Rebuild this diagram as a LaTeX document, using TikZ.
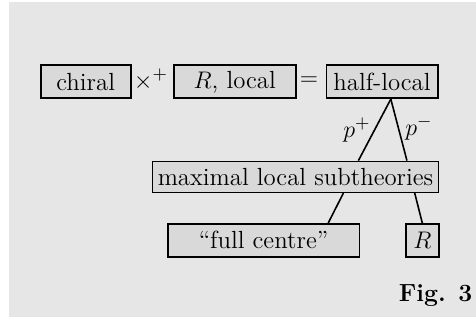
\documentclass[tikz,border=0pt]{standalone}
\usetikzlibrary{calc}
\definecolor{bgcol}{HTML}{E6E6E6}
\definecolor{boxcol}{HTML}{D9D9D9}
\begin{document}
\begin{tikzpicture}[x=0.5pt,y=-0.5pt,
  every node/.style={font=\fontsize{12.4}{14}\selectfont, inner sep=0pt},
  thickbox/.style={draw=black, line width=0.8pt, fill=boxcol, minimum height=16.5pt},
  thinbox/.style={draw=black, line width=0.4pt, fill=boxcol, minimum height=15.8pt},
  link/.style={line width=0.8pt}]
\useasboundingbox (0,0) rectangle (476,320);
\fill[bgcol] (9,2) rectangle (476,317);
\node[thickbox, minimum width=45pt] (ch) at (85.7,81.8) {chiral};
\node (times) at (151,80) {$\times^+$};
\node[thickbox, minimum width=61pt] (rl) at (234.7,81.8) {$R$, local};
\node (eq) at (309,81) {$=$};
\node[thickbox, minimum width=55.7pt] (hl) at (382,81.8) {half-local};
\node[thinbox, minimum width=143.2pt] (mx) at (295.5,176.8) {maximal local subtheories};
\node[thickbox, minimum width=95.8pt] (fc) at (263.5,240.3) {``full centre''};
\node[thickbox, minimum width=16.4pt] (r) at (422.3,240.3) {$R$};
\coordinate (apex) at ($(hl.south west)!0.578!(hl.south east)$);
\draw[link] (apex) -- ($(mx.north west)!0.719!(mx.north east)$);
\draw[link] (apex) -- ($(mx.north west)!0.888!(mx.north east)$);
\draw[link] ($(mx.south west)!0.667!(mx.south east)$) -- ($(fc.north west)!0.835!(fc.north east)$);
\draw[link] ($(mx.south west)!0.915!(mx.south east)$) -- (r.north);
\node (pp) at (357,130) {$p^+$};
\node (pm) at (419,128) {$p^-$};
\node[anchor=base east] (fig) at (472.7,301.7) {\bfseries Fig. 3};
\end{tikzpicture}
\end{document}
